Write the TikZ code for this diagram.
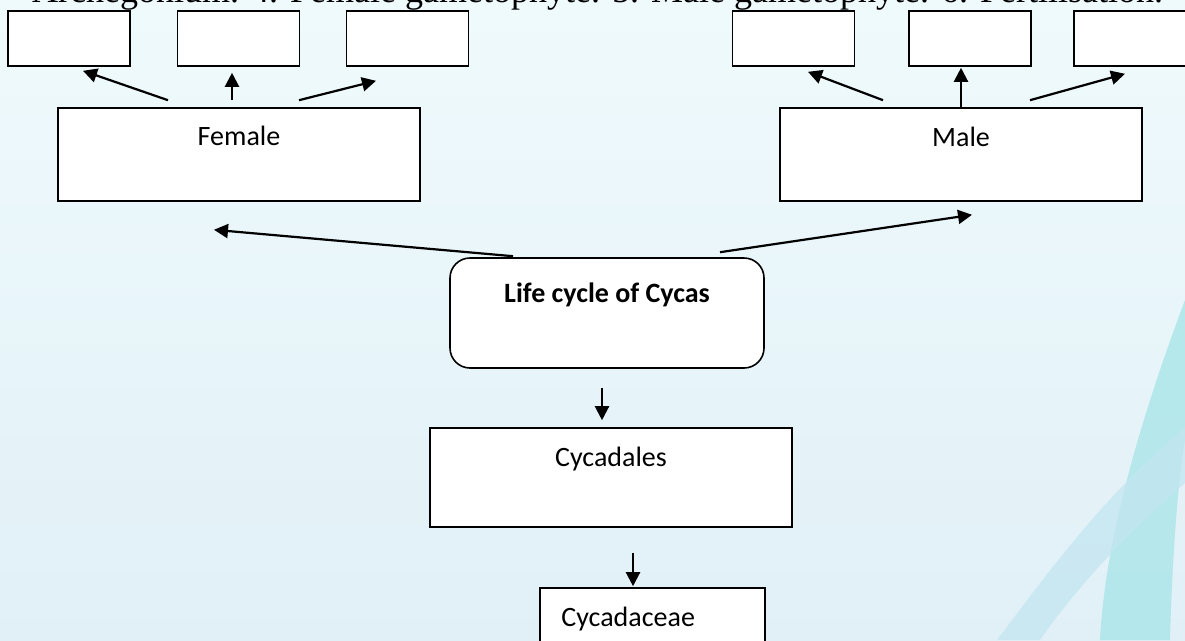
\documentclass[tikz,border=0pt]{standalone}
\usepackage{fontspec}
\setmainfont{Liberation Serif}
\newfontfamily\boxfont{Carlito}
\usetikzlibrary{positioning,arrows.meta}
\definecolor{bgtop}{HTML}{EFFAFC}
\definecolor{bgbottom}{HTML}{E1F0F7}
\definecolor{swirlteal}{HTML}{ADE6E9}
\definecolor{swirlblue}{HTML}{C3E6F1}

\begin{document}
\begin{tikzpicture}[
    x=1pt, y=-1pt,
    box/.style={rectangle, draw, fill=white, line width=1.6pt, inner sep=0pt},
    blank/.style={box, minimum width=122pt, minimum height=55pt},
    wide/.style={box, minimum width=362pt, minimum height=93pt},
    lbl/.style={font=\boxfont\fontsize{28}{32}\selectfont, inner sep=0pt, anchor=base},
    arr/.style={line width=2.2pt, -{Triangle[length=14pt,width=14pt]}}
]
    % Background
    \clip (0,0) rectangle (1185,640);
    \shade[top color=bgtop, bottom color=bgbottom] (0,0) rectangle (1185,640);
    \fill[swirlteal, opacity=0.85] (1185,300) .. controls (1140,420) and (1105,540) .. (1100,640)
        -- (1170,640) .. controls (1172,560) and (1178,480) .. (1185,440) -- cycle;
    \fill[swirlblue, opacity=0.75] (997,640) .. controls (1050,570) and (1100,500) .. (1185,427)
        -- (1185,483) .. controls (1120,540) and (1075,590) .. (1040,640) -- cycle;

    % Caption
    \node[font=\fontsize{36}{40}\selectfont, anchor=base west, inner sep=0pt] (caption) at (32,2)
        {Archegonium. 4. Female gametophyte. 5. Male gametophyte. 6. Fertilisation.};

    % Nodes
    \node[blank] (fg1) at (69,38.5) {};
    \node[blank] (fg2) at (238.5,38.5) {};
    \node[blank] (fg3) at (407.5,38.5) {};
    \node[blank] (mg1) at (793.5,38.5) {};
    \node[blank] (mg2) at (970,38.5) {};
    \node[blank] (mg3) at (1135,38.5) {};
    \node[wide] (female) at (239,154.5) {};
    \node[wide] (male) at (961,154.5) {};
    \node[box, rounded corners=20pt, minimum width=314pt, minimum height=110pt] (life) at (607,313) {};
    \node[wide, minimum height=99pt] (cycadales) at (611,477.5) {};
    \node[box, minimum width=225pt, minimum height=92pt] (cycadaceae) at (652.5,634) {};

    % Labels
    \node[lbl] (femaletxt) at ([yshift=-38pt]female.north) {Female};
    \node[lbl] (maletxt) at ([yshift=-39pt]male.north) {Male};
    \node[lbl, font=\boxfont\bfseries\fontsize{28}{32}\selectfont] (lifetxt) at ([yshift=-45pt]life.north) {Life cycle of Cycas};
    \node[lbl] (cycadalestxt) at ([yshift=-39pt]cycadales.north) {Cycadales};
    \node[lbl, anchor=base west] (cycadaceaetxt) at ([xshift=22pt,yshift=-39pt]cycadaceae.north west) {Cycadaceae};

    % Arrows
    \draw[arr] ([xshift=-71pt,yshift=7pt]female.north) -- ([xshift=14pt,yshift=-4pt]fg1.south);
    \draw[arr] ([xshift=-7pt,yshift=7pt]female.north) -- ([xshift=-6.5pt,yshift=-6pt]fg2.south);
    \draw[arr] ([xshift=60pt,yshift=7pt]female.north) -- ([xshift=-31.5pt,yshift=-14pt]fg3.south);
    \draw[arr] ([xshift=-78pt,yshift=7pt]male.north) -- ([xshift=14.5pt,yshift=-5pt]mg1.south);
    \draw[arr] (male.north) -- ([xshift=-9pt,yshift=-1pt]mg2.south);
    \draw[arr] ([xshift=69pt,yshift=7pt]male.north) -- ([xshift=-10pt,yshift=-7pt]mg3.south);
    \draw[arr] ([xshift=-94pt,yshift=1pt]life.north) -- ([xshift=-25pt,yshift=-28pt]female.south);
    \draw[arr] ([xshift=113pt,yshift=5pt]life.north) -- ([xshift=11pt,yshift=-13pt]male.south);
    \draw[arr] ([xshift=-5pt,yshift=-19pt]life.south) -- ([xshift=-9pt,yshift=7pt]cycadales.north);
    \draw[arr] ([xshift=22pt,yshift=-25pt]cycadales.south) -- ([xshift=-19.5pt,yshift=1pt]cycadaceae.north);
\end{tikzpicture}
\end{document}
